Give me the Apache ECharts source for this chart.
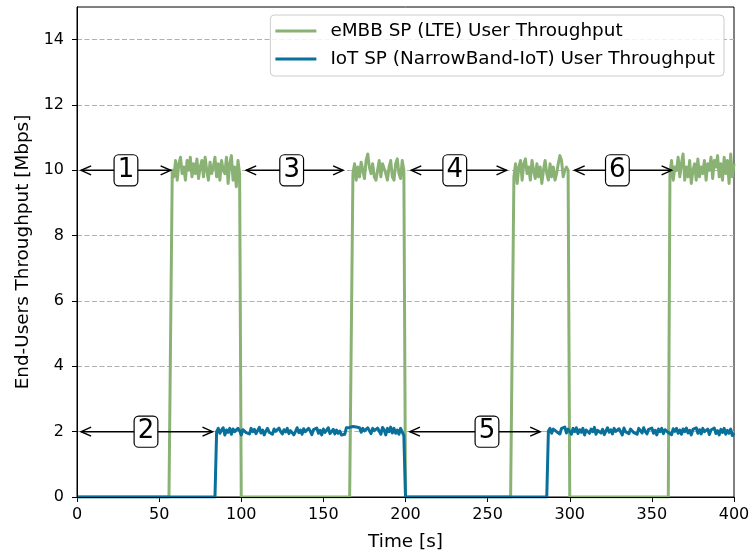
<!DOCTYPE html>
<html>
<head>
<meta charset="utf-8">
<script src="https://cdn.jsdelivr.net/npm/echarts@6/dist/echarts.min.js"></script>
<style>
  html, body { margin: 0; padding: 0; background: #fff; }
  #chart { width: 754px; height: 556px; }
</style>
</head>
<body>
<div id="chart"></div>
<script>
// Time axis runs 0..400 s, one sample per second.
const timeStart = 0;
const timeEnd = 400;
const xTicks = [0, 50, 100, 150, 200, 250, 300, 350, 400];
const yTicks = [0, 2, 4, 6, 8, 10, 12, 14];

// eMBB SP (LTE) bursts: first second of each burst, then per-second throughput [Mbps]
const embbBurstStarts = [58, 168, 266, 361];
const embbBurst1 = [
  10.00, 9.80, 10.30, 9.70, 10.20, 10.40, 9.90, 10.10, 9.70, 10.30,
  10.00, 10.40, 9.80, 10.20, 9.90, 10.35, 9.75, 10.10, 10.30, 9.80,
  10.40, 10.00, 9.70, 10.25, 9.90, 10.10, 10.40, 9.80, 10.20, 9.70,
  10.30, 10.00, 9.90, 10.40, 9.60, 10.20, 10.45, 9.70, 10.10, 9.50,
  10.30, 9.90
];
const embbBurst2 = [
  9.90, 10.20, 9.70, 10.10, 9.80, 10.25, 10.00, 9.75, 10.30, 10.50,
  10.10, 9.90, 10.20, 9.80, 9.70, 10.00, 10.30, 9.80, 10.20, 10.25,
  9.90, 9.70, 10.10, 10.30, 9.80, 9.70, 10.20, 10.35, 9.90, 9.75,
  10.30, 10.00
];
const embbBurst3 = [
  9.80, 10.20, 9.60, 10.10, 10.30, 9.70, 10.20, 10.35, 9.90, 10.10,
  9.70, 10.30, 10.00, 9.75, 10.20, 9.80, 10.10, 9.60, 10.00, 10.30,
  9.90, 9.70, 10.20, 9.80, 10.10, 9.70, 9.90, 10.20, 10.45, 10.30,
  9.80, 10.00, 10.10, 10.00
];
const embbBurst4 = [
  9.90, 10.30, 9.70, 10.10, 10.00, 10.40, 9.80, 10.20, 10.50, 9.70,
  10.10, 9.80, 10.30, 9.60, 10.00, 10.20, 9.70, 10.35, 9.80, 10.10,
  9.90, 10.30, 9.70, 10.20, 10.00, 10.40, 9.75, 10.30, 10.10, 10.45,
  9.80, 10.20, 9.70, 10.40, 9.90, 10.30, 9.60, 10.50, 9.80, 10.20
];

// IoT SP (NarrowBand-IoT) bursts
const iotBurstStarts = [85, 287];
const iotBurst1 = [
  2.00, 2.10, 1.95, 2.05, 2.12, 1.90, 2.05, 1.98, 2.10, 1.92,
  2.08, 2.00, 1.95, 2.10, 2.03, 1.90, 2.06, 2.12, 1.97, 2.02,
  1.93, 2.10, 2.00, 2.07, 1.94, 2.00, 2.13, 1.96, 2.05, 1.90,
  2.02, 2.10, 1.98, 2.04, 1.92, 2.08, 2.01, 1.95, 2.11, 2.00,
  1.93, 2.06, 1.99, 2.10, 1.94, 2.03, 2.08, 1.90, 2.00, 2.12,
  1.97, 2.05, 1.92, 2.09, 2.00, 1.96, 2.10, 2.02, 1.91, 2.06,
  2.00, 2.11, 1.95, 2.04, 1.90, 2.08, 1.98, 2.03, 2.12, 1.94,
  2.00, 2.07, 1.93, 2.05, 1.95, 2.02, 1.90, 1.88, 1.92, 2.12,
  2.15, 2.13, 2.12, 2.16, 2.10, 2.14, 2.08, 2.12, 1.98, 2.10,
  2.02, 2.00, 2.12, 2.06, 1.94, 2.10, 2.03, 1.98, 2.11, 2.08,
  1.92, 2.13, 2.05, 1.90, 2.10, 2.00, 2.14, 1.96, 2.10, 1.95,
  2.05, 1.92, 2.10, 2.08, 1.88
];
const iotBurst2 = [
  2.02, 2.10, 1.95, 2.08, 2.12, 2.00, 2.06, 1.93, 2.10, 2.04,
  2.14, 1.96, 2.08, 2.02, 1.92, 2.10, 2.00, 2.12, 1.94, 2.06,
  1.98, 2.10, 1.90, 2.05, 2.11, 1.95, 2.08, 2.00, 2.13, 1.92,
  2.04, 2.10, 1.96, 2.07, 1.91, 2.02, 2.12, 1.98, 2.06, 1.93,
  2.10, 2.01, 1.95, 2.09, 2.04, 1.90, 2.11, 2.00, 2.06, 1.94,
  2.08, 2.13, 1.97, 2.03, 1.92, 2.10, 2.05, 1.96, 2.12, 2.00,
  1.93, 2.07, 2.02, 2.11, 1.95, 2.04, 1.90, 2.08, 2.00, 2.10,
  1.94, 2.06, 2.12, 1.97, 2.03, 1.91, 2.09, 2.01, 2.10, 1.95,
  2.05, 1.92, 2.08, 2.00, 2.11, 1.96, 2.04, 1.90, 2.07, 2.02,
  2.12, 1.95, 2.06, 1.93, 2.10, 2.00, 1.97, 2.08, 1.91, 2.05,
  2.00, 2.11, 1.94, 2.03, 1.90, 2.07, 1.98, 2.10, 1.92, 2.04,
  1.95, 2.08, 1.88, 1.96
];

// Phase annotations: double-headed arrows with a boxed number
const arrowFrom    = [2.5, 103, 203.5, 303, 2.5, 202.7];
const arrowTo      = [57, 162, 261.5, 362, 82.5, 282];
const arrowLevel   = [10, 10, 10, 10, 2, 2];
const arrowLabelAt = [29.8, 130.7, 230, 329, 42, 249.6];
const arrowLabels  = ['1', '3', '4', '6', '2', '5'];

const seriesNames = [
  'eMBB SP (LTE) User Throughput',
  'IoT SP (NarrowBand-IoT) User Throughput'
];
const embbColor = '#8ab275';
const iotColor = '#08709a';

// Full 0..400 s trace: zero outside the bursts
function buildTrace(starts, bursts) {
  const out = [];
  for (let t = timeStart; t <= timeEnd; t++) {
    let v = 0;
    for (let k = 0; k < starts.length; k++) {
      const i = t - starts[k];
      if (i >= 0 && i < bursts[k].length) { v = bursts[k][i]; break; }
    }
    out.push([t, v]);
  }
  return out;
}

const embbTrace = buildTrace(embbBurstStarts, [embbBurst1, embbBurst2, embbBurst3, embbBurst4]);
const iotTrace = buildTrace(iotBurstStarts, [iotBurst1, iotBurst2]);

const arrowData = arrowFrom.map((f, i) => [f, arrowTo[i], arrowLevel[i], arrowLabelAt[i]]);

const FONT = '"DejaVu Sans", "Liberation Sans", sans-serif';

const chart = echarts.init(document.getElementById('chart'), null, { renderer: 'canvas' });

chart.setOption({
  animation: false,
  backgroundColor: '#fff',
  textStyle: { fontFamily: FONT },
  grid: {
    left: 77, right: 20, top: 7, bottom: 59,
    show: true, borderColor: '#000', borderWidth: 1, backgroundColor: 'transparent'
  },
  legend: {
    data: seriesNames,
    orient: 'vertical',
    right: 30,
    top: 15,
    padding: [7, 9, 8, 5],
    itemGap: 10,
    itemWidth: 41,
    itemHeight: 3,
    icon: 'rect',
    backgroundColor: 'rgba(255,255,255,0.85)',
    borderColor: '#cccccc',
    borderWidth: 1,
    borderRadius: 4,
    textStyle: { fontFamily: FONT, fontSize: 18.4, color: '#000', lineHeight: 18, padding: [0, 0, 0, 9] }
  },
  xAxis: [{
    type: 'value',
    min: timeStart, max: timeEnd, interval: 50,
    name: 'Time [s]',
    nameLocation: 'middle',
    nameGap: 36,
    nameTextStyle: { fontFamily: FONT, fontSize: 18.4, color: '#000' },
    axisLine: { show: true, onZero: false, lineStyle: { color: '#000', width: 1 } },
    axisTick: { show: true, inside: false, length: 5, lineStyle: { color: '#000', width: 1 }, customValues: xTicks },
    axisLabel: { fontFamily: FONT, fontSize: 16, color: '#000', margin: 10, customValues: xTicks },
    splitLine: { show: false }
  }, {
    type: 'value', position: 'top', min: timeStart, max: timeEnd, z: 5,
    axisLine: { show: true, lineStyle: { color: '#000', width: 1 } },
    axisTick: { show: false }, axisLabel: { show: false }, splitLine: { show: false }
  }],
  yAxis: [{
    type: 'value',
    min: 0, max: 15, interval: 2,
    name: 'End-Users Throughput [Mbps]',
    nameLocation: 'middle',
    nameGap: 45,
    nameTextStyle: { fontFamily: FONT, fontSize: 18.4, color: '#000' },
    axisLine: { show: true, onZero: false, lineStyle: { color: '#000', width: 1 } },
    axisTick: { show: true, inside: false, length: 5, lineStyle: { color: '#000', width: 1 }, customValues: yTicks },
    axisLabel: { fontFamily: FONT, fontSize: 16, color: '#000', margin: 13, customValues: yTicks },
    splitLine: { show: true, lineStyle: { color: '#b0b0b0', width: 1, type: [5, 2.5] } }
  }, {
    type: 'value', position: 'right', min: 0, max: 15, z: 5,
    axisLine: { show: true, lineStyle: { color: '#000', width: 1 } },
    axisTick: { show: false }, axisLabel: { show: false }, splitLine: { show: false }
  }],
  series: [{
    name: seriesNames[0],
    type: 'line',
    data: embbTrace,
    showSymbol: false,
    symbol: 'none',
    lineStyle: { color: embbColor, width: 3, join: 'round' },
    itemStyle: { color: embbColor },
    z: 2
  }, {
    name: seriesNames[1],
    type: 'line',
    data: iotTrace,
    showSymbol: false,
    symbol: 'none',
    lineStyle: { color: iotColor, width: 3, join: 'round' },
    itemStyle: { color: iotColor },
    z: 3
  }, {
    name: 'phases',
    type: 'custom',
    data: arrowData,
    encode: { x: [0, 1, 3], y: 2 },
    z: 4,
    silent: true,
    renderItem: function (params, api) {
      const y = api.value(2);
      const a = api.coord([api.value(0), y]);
      const b = api.coord([api.value(1), y]);
      const c = api.coord([api.value(3), y]);
      const hl = 10, hw = 4.5;
      const stroke = { stroke: '#000', lineWidth: 1.5, fill: null };
      return {
        type: 'group',
        children: [
          { type: 'line', shape: { x1: a[0], y1: a[1], x2: b[0], y2: b[1] }, style: stroke },
          { type: 'polyline', shape: { points: [[a[0] + hl, a[1] - hw], [a[0], a[1]], [a[0] + hl, a[1] + hw]] }, style: stroke },
          { type: 'polyline', shape: { points: [[b[0] - hl, b[1] - hw], [b[0], b[1]], [b[0] - hl, b[1] + hw]] }, style: stroke },
          {
            type: 'text', x: c[0], y: c[1],
            style: {
              text: arrowLabels[params.dataIndex],
              align: 'center', verticalAlign: 'middle',
              fontFamily: FONT, fontSize: 26, fill: '#000',
              backgroundColor: '#fff', borderColor: '#000', borderWidth: 1.2, borderRadius: 4,
              padding: [2, 3, 2, 3]
            }
          }
        ]
      };
    }
  }]
});
</script>
</body>
</html>
